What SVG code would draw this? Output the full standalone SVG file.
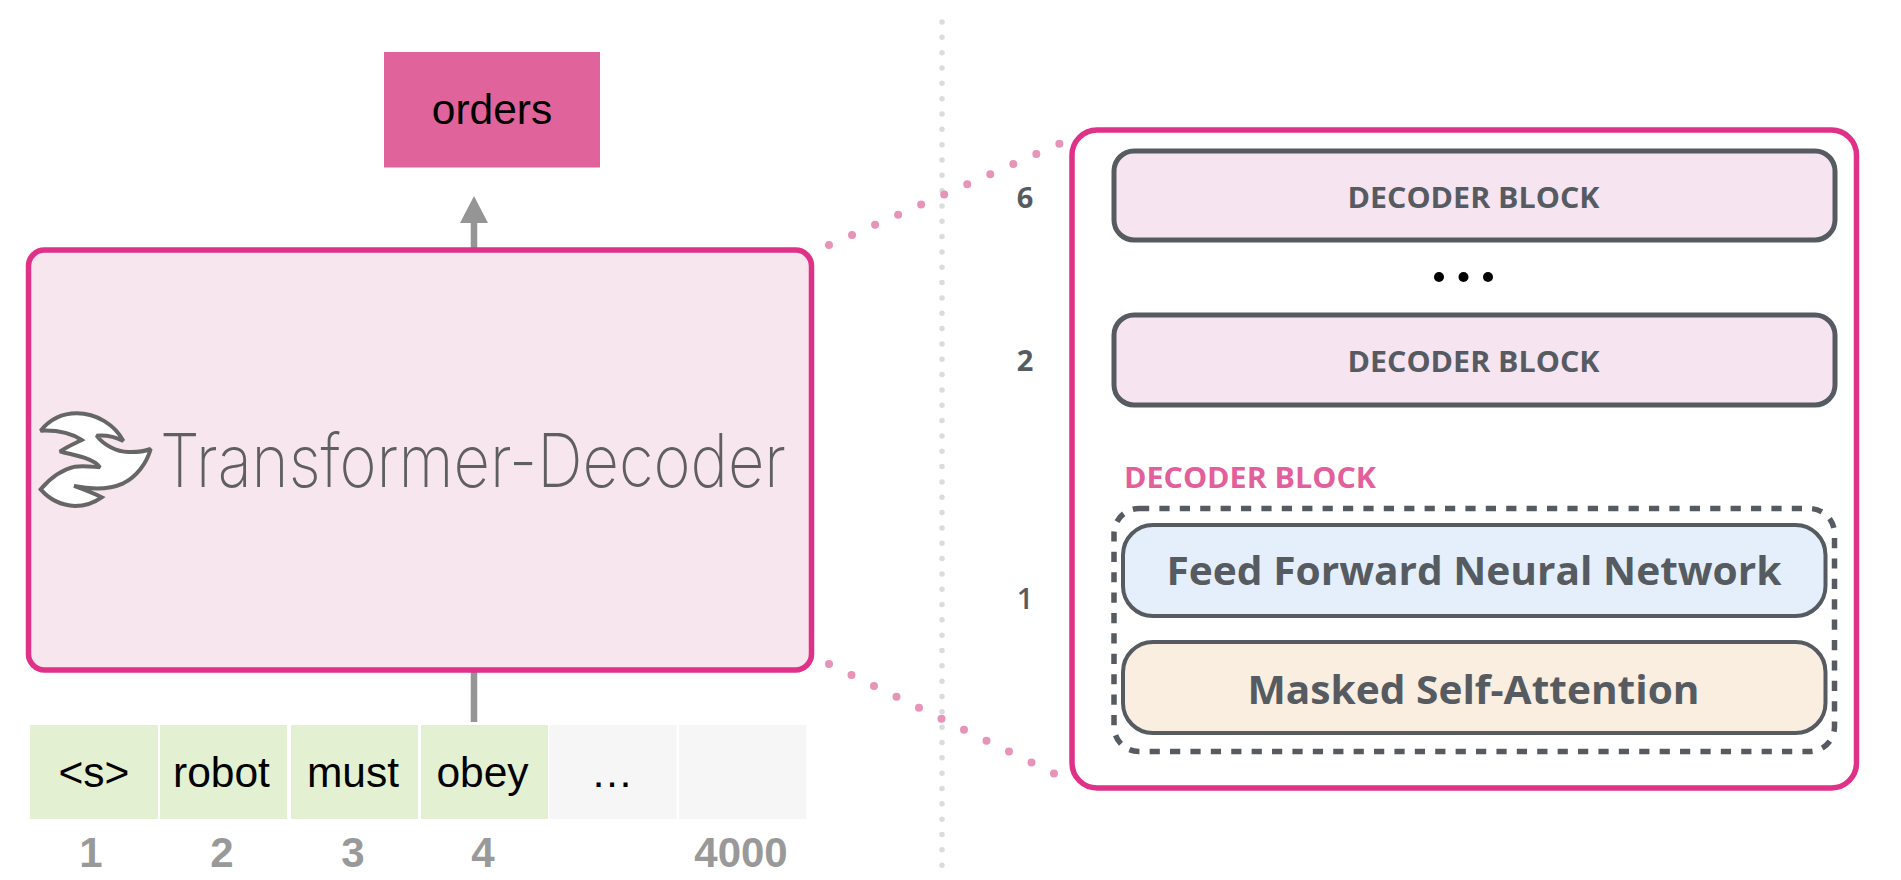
<svg xmlns="http://www.w3.org/2000/svg" width="1901" height="880" viewBox="0 0 1901 880">
<defs>
<marker id="head" markerUnits="userSpaceOnUse" markerWidth="28" markerHeight="28" refX="0" refY="14" orient="auto"><path d="M0 0L27 14L0 28Z" fill="#959595"/></marker>
</defs>
<style>
.hv{font-family:"Liberation Sans",Arial,sans-serif;fill:#000;font-size:42.5px;text-anchor:middle}
.num{font-family:"Liberation Sans",Arial,sans-serif;fill:#999;font-size:42px;font-weight:700;text-anchor:middle}
.os{font-family:"Open Sans","Noto Sans",sans-serif;font-weight:700;fill:#565b61;text-anchor:middle}
.blk{font-size:29px}
.big{font-size:39px}
.tok{fill:#e3f0d2}
.emp{fill:#f6f6f6}
.dblock{fill:#f6e4f1;stroke:#565b61;stroke-width:5}
.pdot{fill:none;stroke:#e893b8;stroke-width:8;stroke-linecap:round}
.arrow{fill:none;stroke:#959595;stroke-width:6.5}
</style>
<rect width="1901" height="880" fill="#fff"/>
<g id="connectors">
<line x1="942" y1="22" x2="942" y2="880" fill="none" stroke="#dcdcdc" stroke-width="5.5" stroke-linecap="round" stroke-dasharray="0 15.33"/>
<line class="arrow" x1="474" y1="250" x2="474" y2="223" marker-end="url(#head)"/>
<line class="arrow" x1="474" y1="672" x2="474" y2="722"/>
<line class="pdot" x1="829" y1="245" x2="1059.500" y2="143.800" stroke-dasharray="0 25.16"/>
<line class="pdot" x1="829" y1="664" x2="1054" y2="773.500" stroke-dasharray="0 25.02"/>
</g>
<g id="node-orders">
<rect x="384" y="52" width="216" height="115.500" fill="#e0649b"/>
<text class="hv" x="492" y="124">orders</text>
</g>
<g id="node-decoder">
<rect x="28.500" y="250" width="783" height="420" rx="16" fill="#f7e6ee" stroke="#e03189" stroke-width="5.500"/>
<path transform="translate(0 380) scale(.3333)" d="M122 152C150 118 190 100 230 100C290 100 345 135 370 183C345 170 315 165 290 167C310 195 350 215 385 216C410 217 435 213 452 207C440 250 410 290 370 310C325 330 270 328 222 318C250 328 280 340 305 352C280 370 255 378 225 378C185 376 150 360 122 328C150 295 180 270 225 260C250 256 275 260 300 262C280 235 225 225 180 215C200 200 225 190 245 180C215 160 170 150 122 152Z" fill="#fff" stroke="#666" stroke-width="12" stroke-linejoin="miter" stroke-miterlimit="2"/>
<text x="160" y="487" textLength="626" lengthAdjust="spacingAndGlyphs" font-family="Inter,'Noto Sans',sans-serif" font-weight="200" font-size="74" fill="#5f5f5f">Transformer-Decoder</text>
</g>
<g id="node-tokens">
<rect class="tok" x="30" y="725" width="128" height="94"/>
<rect class="tok" x="160" y="725" width="127" height="94"/>
<rect class="tok" x="291" y="725" width="127" height="94"/>
<rect class="tok" x="421" y="725" width="127" height="94"/>
<rect class="emp" x="549.500" y="725" width="127" height="94"/>
<rect class="emp" x="679" y="725" width="127" height="94"/>
<text class="hv" x="94" y="787">&lt;s&gt;</text>
<text class="hv" x="221.500" y="787">robot</text>
<text class="hv" x="353" y="787">must</text>
<text class="hv" x="482.500" y="787">obey</text>
<text class="hv" x="612" y="787">…</text>
<text class="num" x="91" y="867">1</text>
<text class="num" x="222" y="867">2</text>
<text class="num" x="353" y="867">3</text>
<text class="num" x="483" y="867">4</text>
<text class="num" x="741" y="867">4000</text>
</g>
<g id="node-stack">
<rect x="1072" y="130" width="784.500" height="658" rx="25" fill="#fff" stroke="#e03189" stroke-width="5.500"/>
</g>
<g id="node-block6">
<rect class="dblock" x="1114" y="151" width="721" height="89" rx="20"/>
<text class="os blk" x="1473.500" y="207.500" textLength="252" lengthAdjust="spacingAndGlyphs">DECODER BLOCK</text>
<text class="os blk" x="1025" y="207.500">6</text>
</g>
<g id="node-ellipsis">
<circle cx="1439" cy="277" r="5" fill="#000"/>
<circle cx="1463.500" cy="277" r="5" fill="#000"/>
<circle cx="1488" cy="277" r="5" fill="#000"/>
</g>
<g id="node-block2">
<rect class="dblock" x="1114" y="315" width="721" height="90" rx="20"/>
<text class="os blk" x="1473.500" y="371.500" textLength="252" lengthAdjust="spacingAndGlyphs">DECODER BLOCK</text>
<text class="os blk" x="1025" y="371">2</text>
</g>
<g id="node-block1">
<text class="os blk" x="1250" y="487.500" textLength="252" lengthAdjust="spacingAndGlyphs" style="fill:#e35f9b">DECODER BLOCK</text>
<text class="os blk" x="1025" y="609" style="font-weight:600">1</text>
<rect x="1114" y="508.500" width="720.500" height="243" rx="25" fill="none" stroke="#565b61" stroke-width="5.500" stroke-dasharray="10.200 10.200"/>
<rect x="1123" y="525" width="702.500" height="91" rx="30" fill="#e5effb" stroke="#565b61" stroke-width="4"/>
<text class="os big" x="1474" y="585" textLength="615" lengthAdjust="spacingAndGlyphs">Feed Forward Neural Network</text>
<rect x="1123" y="642" width="702.500" height="91" rx="30" fill="#f9eee0" stroke="#565b61" stroke-width="4"/>
<text class="os big" x="1473.500" y="703.500" textLength="452" lengthAdjust="spacingAndGlyphs">Masked Self-Attention</text>
</g>
</svg>
